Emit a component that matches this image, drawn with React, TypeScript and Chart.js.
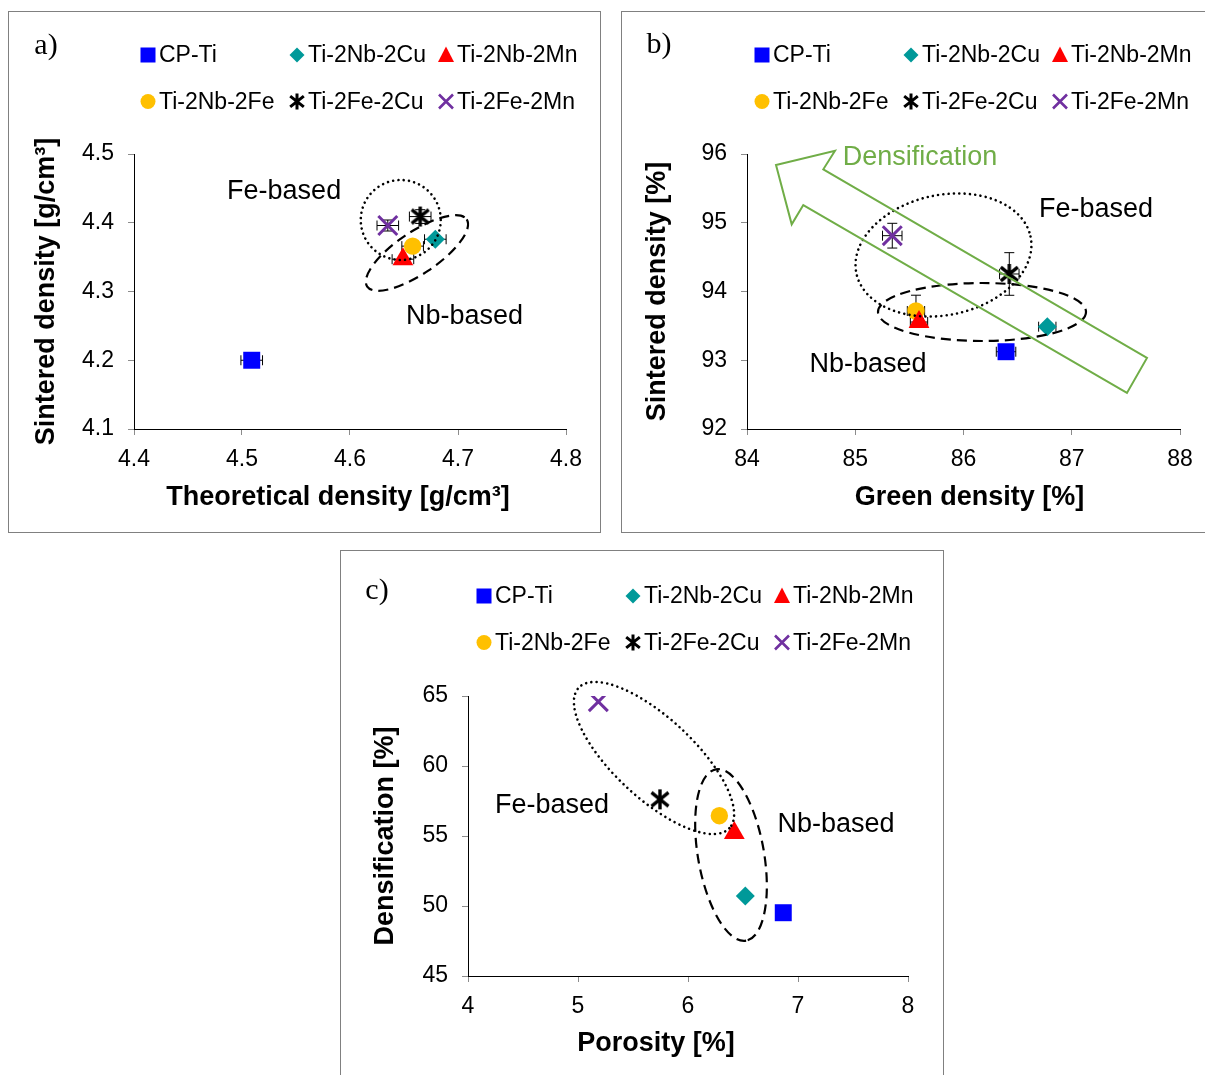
import React, { useEffect, useRef } from 'react';
import { Chart, registerables } from 'chart.js';

Chart.register(...registerables);

const FONT = "'Liberation Sans', Arial, Helvetica, sans-serif";
const SERIF = "'Liberation Serif', 'Times New Roman', serif";

// ---------- series ----------
const SERIES = ['CP-Ti', 'Ti-2Nb-2Cu', 'Ti-2Nb-2Mn', 'Ti-2Nb-2Fe', 'Ti-2Fe-2Cu', 'Ti-2Fe-2Mn'];
const COLORS = ['#0000FF', '#009999', '#FF0000', '#FFC000', '#000000', '#7030A0'];
const STYLES = ['rect', 'rectRot', 'triangle', 'circle', 'asterisk', 'crossRot'];
const RADII = [12, 9.5, 12, 8.7, 11, 13.4];

// ---------- panel a: sintered vs theoretical density ----------
const A_X = [4.509, 4.679, 4.649, 4.658, 4.665, 4.635];
const A_Y = [4.2, 4.376, 4.347, 4.366, 4.409, 4.396];
const A_XERR = [0.01, 0.01, 0.01, 0.01, 0.01, 0.01];
const A_YERR = [0.003, 0.003, 0.003, 0.003, 0.01, 0.008];
const A_XTICKS = [4.4, 4.5, 4.6, 4.7, 4.8];
const A_XLABELS = ['4.4', '4.5', '4.6', '4.7', '4.8'];
const A_YTICKS = [4.1, 4.2, 4.3, 4.4, 4.5];
const A_YLABELS = ['4.1', '4.2', '4.3', '4.4', '4.5'];

// ---------- panel b: sintered vs green density ----------
const B_X = [86.393, 86.774, 85.589, 85.561, 86.423, 85.342];
const B_Y = [93.124, 93.488, 93.556, 93.716, 94.255, 94.812];
const B_XERR = [0.09, 0.08, 0.08, 0.08, 0.09, 0.09];
const B_YERR = [0.05, 0.05, 0.05, 0.23, 0.31, 0.18];
const B_XTICKS = [84, 85, 86, 87, 88];
const B_XLABELS = ['84', '85', '86', '87', '88'];
const B_YTICKS = [92, 93, 94, 95, 96];
const B_YLABELS = ['92', '93', '94', '95', '96'];

// ---------- panel c: densification vs porosity ----------
const C_X = [6.866, 6.521, 6.421, 6.285, 5.745, 5.185];
const C_Y = [49.52, 50.714, 55.21, 56.45, 57.62, 64.593];
const C_XTICKS = [4, 5, 6, 7, 8];
const C_XLABELS = ['4', '5', '6', '7', '8'];
const C_YTICKS = [45, 50, 55, 60, 65];
const C_YLABELS = ['45', '50', '55', '60', '65'];

type Ell = { x: number; y: number; rx: number; ry: number; rot: number; kind: 'dot' | 'dash' };
type Note = { x: number; y: number; text: string; color: string };

interface PanelCfg {
  id: string;
  label: string;
  box: { left: number; top: number; width: number; height: number };
  area: { left: number; top: number; right: number; bottom: number };
  xs: number[];
  ys: number[];
  xErr?: number[];
  yErr?: number[];
  xTicks: number[];
  xLabels: string[];
  yTicks: number[];
  yLabels: string[];
  xTitle: string;
  yTitle: string;
  xTitleY: number;
  xTitleShift: number;
  yTitlePad: number;
  legend: { x: number; y: number };
  labelPos: { x: number; y: number };
  ellipses: Ell[];
  notes: Note[];
  arrow?: [number, number][];
}

const GREEN = '#70AD47';

const PANELS: PanelCfg[] = [
  {
    id: 'a',
    label: 'a)',
    box: { left: 8, top: 11, width: 593, height: 522 },
    area: { left: 125, top: 142, right: 557, bottom: 417 },
    xs: A_X, ys: A_Y, xErr: A_XERR, yErr: A_YERR,
    xTicks: A_XTICKS, xLabels: A_XLABELS, yTicks: A_YTICKS, yLabels: A_YLABELS,
    xTitle: 'Theoretical density [g/cm³]',
    yTitle: 'Sintered density [g/cm³]',
    xTitleY: 486, xTitleShift: -12, yTitlePad: 21,
    legend: { x: 139, y: 43 },
    labelPos: { x: 37, y: 34 },
    ellipses: [
      { x: 4.647, y: 4.404, rx: 40, ry: 40, rot: 0, kind: 'dot' },
      { x: 4.662, y: 4.356, rx: 60, ry: 21, rot: -34, kind: 'dash' },
    ],
    notes: [
      { x: 4.539, y: 4.446, text: 'Fe-based', color: '#000' },
      { x: 4.706, y: 4.264, text: 'Nb-based', color: '#000' },
    ],
  },
  {
    id: 'b',
    label: 'b)',
    box: { left: 621, top: 11, width: 590, height: 522 },
    area: { left: 125, top: 142, right: 558, bottom: 417 },
    xs: B_X, ys: B_Y, xErr: B_XERR, yErr: B_YERR,
    xTicks: B_XTICKS, xLabels: B_XLABELS, yTicks: B_YTICKS, yLabels: B_YLABELS,
    xTitle: 'Green density [%]',
    yTitle: 'Sintered density [%]',
    xTitleY: 486, xTitleShift: 6, yTitlePad: 19,
    legend: { x: 140, y: 43 },
    labelPos: { x: 37, y: 33 },
    ellipses: [
      { x: 85.815, y: 94.531, rx: 89, ry: 60, rot: -12, kind: 'dot' },
      { x: 86.171, y: 93.702, rx: 104, ry: 29, rot: 0, kind: 'dash' },
    ],
    notes: [
      { x: 85.598, y: 95.942, text: 'Densification', color: GREEN },
      { x: 87.224, y: 95.185, text: 'Fe-based', color: '#000' },
      { x: 85.118, y: 92.931, text: 'Nb-based', color: '#000' },
    ],
    arrow: [
      [84.813, 96.048],
      [84.705, 95.777],
      [87.695, 93.033],
      [87.51, 92.524],
      [84.52, 95.258],
      [84.413, 94.977],
      [84.268, 95.84],
    ],
  },
  {
    id: 'c',
    label: 'c)',
    box: { left: 340, top: 550, width: 604, height: 540 },
    area: { left: 127, top: 145, right: 567, bottom: 425 },
    xs: C_X, ys: C_Y,
    xTicks: C_XTICKS, xLabels: C_XLABELS, yTicks: C_YTICKS, yLabels: C_YLABELS,
    xTitle: 'Porosity [%]',
    yTitle: 'Densification [%]',
    xTitleY: 493, xTitleShift: -32, yTitlePad: 28,
    legend: { x: 143, y: 45 },
    labelPos: { x: 36, y: 40 },
    ellipses: [
      { x: 5.691, y: 60.571, rx: 103, ry: 40, rot: 43, kind: 'dot' },
      { x: 6.391, y: 53.643, rx: 87, ry: 33, rot: 80, kind: 'dash' },
    ],
    notes: [
      { x: 4.764, y: 57.143, text: 'Fe-based', color: '#000' },
      { x: 7.345, y: 55.786, text: 'Nb-based', color: '#000' },
    ],
  },
];

function drawAsterisk(g: CanvasRenderingContext2D, x: number, y: number, h: number, lw: number, color: string) {
  g.save();
  g.strokeStyle = color;
  g.lineWidth = lw;
  g.lineCap = 'butt';
  g.beginPath();
  g.moveTo(x, y - h);
  g.lineTo(x, y + h);
  g.moveTo(x - h * 0.85, y - h * 0.68);
  g.lineTo(x + h * 0.85, y + h * 0.68);
  g.moveTo(x - h * 0.85, y + h * 0.68);
  g.lineTo(x + h * 0.85, y - h * 0.68);
  g.stroke();
  g.restore();
}

function makeAsteriskCanvas(): HTMLCanvasElement {
  const c = document.createElement('canvas');
  c.width = 24;
  c.height = 24;
  const g = c.getContext('2d')!;
  drawAsterisk(g, 12, 12, 10, 3.4, '#000');
  return c;
}

function drawMarker(ctx: CanvasRenderingContext2D, style: string, x: number, y: number, color: string) {
  ctx.save();
  ctx.fillStyle = color;
  ctx.strokeStyle = color;
  ctx.beginPath();
  if (style === 'rect') {
    ctx.fillRect(x - 7.5, y - 7.5, 15, 15);
  } else if (style === 'rectRot') {
    const s = 7.5;
    ctx.moveTo(x, y - s);
    ctx.lineTo(x + s, y);
    ctx.lineTo(x, y + s);
    ctx.lineTo(x - s, y);
    ctx.closePath();
    ctx.fill();
  } else if (style === 'triangle') {
    ctx.moveTo(x, y - 8.5);
    ctx.lineTo(x + 8, y + 7);
    ctx.lineTo(x - 8, y + 7);
    ctx.closePath();
    ctx.fill();
  } else if (style === 'circle') {
    ctx.arc(x, y, 7.5, 0, Math.PI * 2);
    ctx.fill();
  } else if (style === 'crossRot') {
    ctx.lineWidth = 2.6;
    ctx.moveTo(x - 7, y - 7);
    ctx.lineTo(x + 7, y + 7);
    ctx.moveTo(x - 7, y + 7);
    ctx.lineTo(x + 7, y - 7);
    ctx.stroke();
  } else if (style === 'asterisk') {
    drawAsterisk(ctx, x, y, 8, 3, color);
  }
  ctx.restore();
}

function buildChart(canvas: HTMLCanvasElement, cfg: PanelCfg) {
  const W = canvas.width;
  const H = canvas.height;
  const ast = makeAsteriskCanvas();

  const datasets = SERIES.map((name, i) => ({
    label: name,
    data: [{ x: cfg.xs[i], y: cfg.ys[i] }],
    pointStyle: STYLES[i] === 'asterisk' ? ast : STYLES[i],
    pointRadius: RADII[i],
    pointHoverRadius: RADII[i],
    pointBackgroundColor: STYLES[i] === 'crossRot' ? 'rgba(0,0,0,0)' : COLORS[i],
    pointBorderColor: COLORS[i],
    pointBorderWidth: STYLES[i] === 'crossRot' ? 3 : 0,
    pointHoverBorderWidth: STYLES[i] === 'crossRot' ? 3 : 0,
  }));

  const decor = {
    id: 'decor_' + cfg.id,
    beforeDatasetsDraw(chart: any) {
      if (!cfg.xErr && !cfg.yErr) return;
      const ctx: CanvasRenderingContext2D = chart.ctx;
      const xs = chart.scales.x;
      const ys = chart.scales.y;
      ctx.save();
      ctx.strokeStyle = '#000';
      ctx.lineWidth = 1;
      const cap = 5;
      SERIES.forEach((_, i) => {
        const px = xs.getPixelForValue(cfg.xs[i]);
        const py = ys.getPixelForValue(cfg.ys[i]);
        ctx.beginPath();
        if (cfg.xErr) {
          const x1 = xs.getPixelForValue(cfg.xs[i] - cfg.xErr[i]);
          const x2 = xs.getPixelForValue(cfg.xs[i] + cfg.xErr[i]);
          ctx.moveTo(x1, py); ctx.lineTo(x2, py);
          ctx.moveTo(x1, py - cap); ctx.lineTo(x1, py + cap);
          ctx.moveTo(x2, py - cap); ctx.lineTo(x2, py + cap);
        }
        if (cfg.yErr) {
          const y1 = ys.getPixelForValue(cfg.ys[i] - cfg.yErr[i]);
          const y2 = ys.getPixelForValue(cfg.ys[i] + cfg.yErr[i]);
          ctx.moveTo(px, y1); ctx.lineTo(px, y2);
          ctx.moveTo(px - cap, y1); ctx.lineTo(px + cap, y1);
          ctx.moveTo(px - cap, y2); ctx.lineTo(px + cap, y2);
        }
        ctx.stroke();
      });
      ctx.restore();
    },
    afterDraw(chart: any) {
      const ctx: CanvasRenderingContext2D = chart.ctx;
      const xs = chart.scales.x;
      const ys = chart.scales.y;
      ctx.save();
      // ellipses
      cfg.ellipses.forEach((e) => {
        const cx = xs.getPixelForValue(e.x);
        const cy = ys.getPixelForValue(e.y);
        ctx.beginPath();
        ctx.ellipse(cx, cy, e.rx, e.ry, (e.rot * Math.PI) / 180, 0, Math.PI * 2);
        ctx.strokeStyle = '#000';
        if (e.kind === 'dot') {
          ctx.lineWidth = 2.6;
          ctx.lineCap = 'round';
          ctx.setLineDash([0.01, 5.3]);
        } else {
          ctx.lineWidth = 2.2;
          ctx.lineCap = 'butt';
          ctx.setLineDash([10, 6]);
        }
        ctx.stroke();
      });
      ctx.setLineDash([]);
      ctx.lineCap = 'butt';
      // arrow
      if (cfg.arrow) {
        ctx.beginPath();
        cfg.arrow.forEach(([vx, vy], k) => {
          const px = xs.getPixelForValue(vx);
          const py = ys.getPixelForValue(vy);
          if (k === 0) ctx.moveTo(px, py); else ctx.lineTo(px, py);
        });
        ctx.closePath();
        ctx.strokeStyle = GREEN;
        ctx.lineWidth = 2;
        ctx.lineJoin = 'miter';
        ctx.stroke();
      }
      // notes
      ctx.font = `27px ${FONT}`;
      ctx.textAlign = 'center';
      ctx.textBaseline = 'middle';
      cfg.notes.forEach((n) => {
        ctx.fillStyle = n.color;
        ctx.fillText(n.text, xs.getPixelForValue(n.x), ys.getPixelForValue(n.y));
      });
      // x axis title
      ctx.fillStyle = '#000';
      ctx.font = `bold 27px ${FONT}`;
      ctx.fillText(cfg.xTitle, (cfg.area.left + cfg.area.right) / 2 + cfg.xTitleShift, cfg.xTitleY);
      // legend
      SERIES.forEach((name, i) => {
        const col = i % 3;
        const row = Math.floor(i / 3);
        const mx = cfg.legend.x + col * 149;
        const my = cfg.legend.y + row * 46.5;
        drawMarker(ctx, STYLES[i], mx, my, COLORS[i]);
        ctx.fillStyle = '#000';
        ctx.font = `23px ${FONT}`;
        ctx.textAlign = 'left';
        ctx.textBaseline = 'middle';
        ctx.fillText(name, mx + 11, my + 1);
      });
      // panel label
      ctx.font = `30px ${SERIF}`;
      ctx.fillStyle = '#000';
      ctx.textAlign = 'center';
      ctx.textBaseline = 'middle';
      ctx.fillText(cfg.label, cfg.labelPos.x, cfg.labelPos.y);
      ctx.restore();
    },
  };

  const axisCommon = {
    type: 'linear' as const,
    grid: { drawOnChartArea: false, drawTicks: true, tickLength: 6, color: '#8c8c8c', lineWidth: 1 },
    border: { display: true, color: '#000', width: 1 },
  };

  return new Chart(canvas, {
    type: 'scatter',
    data: { datasets } as any,
    options: {
      responsive: false,
      maintainAspectRatio: false,
      animation: false,
      devicePixelRatio: 1,
      events: [],
      layout: { padding: { left: 0, top: cfg.area.top, right: W - cfg.area.right, bottom: 0 } },
      plugins: { legend: { display: false }, tooltip: { enabled: false } },
      scales: {
        x: {
          ...axisCommon,
          position: 'bottom',
          min: cfg.xTicks[0],
          max: cfg.xTicks[cfg.xTicks.length - 1],
          afterBuildTicks: (s: any) => { s.ticks = cfg.xTicks.map((v) => ({ value: v })); },
          afterFit: (s: any) => { s.height = H - cfg.area.bottom; },
          ticks: {
            color: '#000',
            font: { size: 23, family: FONT },
            padding: 11,
            maxRotation: 0,
            autoSkip: false,
            callback: (_v: any, i: number) => cfg.xLabels[i],
          },
          title: { display: false, text: cfg.xTitle },
        },
        y: {
          ...axisCommon,
          position: 'left',
          min: cfg.yTicks[0],
          max: cfg.yTicks[cfg.yTicks.length - 1],
          afterBuildTicks: (s: any) => { s.ticks = cfg.yTicks.map((v) => ({ value: v })); },
          afterFit: (s: any) => { s.width = cfg.area.left; },
          ticks: {
            color: '#000',
            font: { size: 23, family: FONT },
            padding: 14,
            autoSkip: false,
            callback: (_v: any, i: number) => cfg.yLabels[i],
          },
          title: {
            display: true,
            text: cfg.yTitle,
            color: '#000',
            font: { size: 27, weight: 'bold', family: FONT },
            padding: { top: cfg.yTitlePad, bottom: 0 },
          },
        },
      },
    } as any,
    plugins: [decor],
  });
}

function Panel({ cfg }: { cfg: PanelCfg }) {
  const ref = useRef<HTMLCanvasElement>(null);
  useEffect(() => {
    if (!ref.current) return;
    const chart = buildChart(ref.current, cfg);
    return () => chart.destroy();
  }, [cfg]);
  const { left, top, width, height } = cfg.box;
  return (
    <div
      style={{
        position: 'absolute',
        left,
        top,
        width,
        height,
        boxSizing: 'border-box',
        border: '1px solid #808080',
        background: '#fff',
      }}
    >
      <canvas
        ref={ref}
        width={width - 2}
        height={height - 2}
        style={{ display: 'block', width: width - 2, height: height - 2 }}
      />
    </div>
  );
}

export default function App() {
  return (
    <div
      style={{
        position: 'absolute',
        left: 0,
        top: 0,
        width: 1205,
        height: 1075,
        overflow: 'hidden',
        background: '#fff',
      }}
    >
      {PANELS.map((p) => (
        <Panel key={p.id} cfg={p} />
      ))}
    </div>
  );
}
